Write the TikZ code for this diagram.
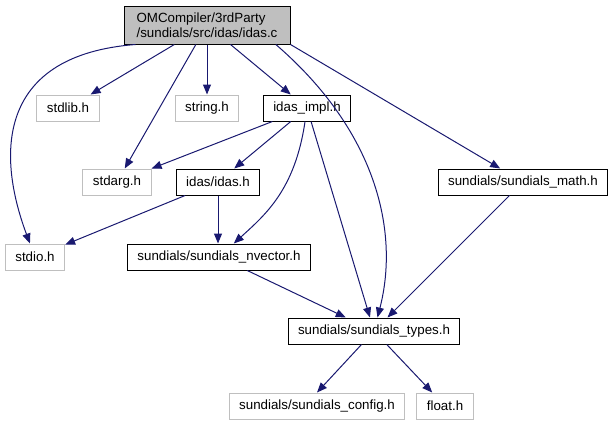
\documentclass[tikz,border=0pt]{standalone}
\usepackage{fontspec}
\setmainfont{Liberation Sans}
\usetikzlibrary{arrows.meta}
\definecolor{incblue}{RGB}{25,25,112}
\definecolor{incgray}{RGB}{191,191,191}

\begin{document}
\begin{tikzpicture}[x=0.75pt,y=-0.75pt,
    file/.style={draw=black,line width=0.75pt,inner xsep=7.5pt,inner ysep=2pt,minimum height=19.5pt,font=\fontsize{10}{11.5}\selectfont},
    sysfile/.style={file,draw=incgray},
    dep/.style={draw=incblue,line width=0.75pt,-{Triangle[length=7.5pt,width=6pt]}}]
    \useasboundingbox (0,0) rectangle (613,425);
    \node[file,fill=incgray,align=left,minimum width=124.5pt,minimum height=28.5pt] (idasc) at (207,25) {OMCompiler/3rdParty\\/sundials/src/idas/idas.c};
    \node[sysfile] (stdlib) at (68,108) {stdlib.h};
    \node[sysfile] (string) at (207,108) {string.h};
    \node[file] (impl) at (307,108) {idas\_impl.h};
    \node[sysfile] (stdarg) at (117,182) {stdarg.h};
    \node[file] (idash) at (218,182) {idas/idas.h};
    \node[file] (math) at (523,182) {sundials/sundials\_math.h};
    \node[sysfile] (stdio) at (35,257) {stdio.h};
    \node[file] (nvector) at (219,257) {sundials/sundials\_nvector.h};
    \node[file] (types) at (374,331) {sundials/sundials\_types.h};
    \node[sysfile] (config) at (317,406) {sundials/sundials\_config.h};
    \node[sysfile] (float) at (445,406) {float.h};

    % idas.c
    \draw[dep] ([xshift=9pt]idasc.south west) .. controls (0,55) and (-5,150) .. (stdio);
    \draw[dep] (idasc) -- (stdlib);
    \draw[dep] (idasc) -- (stdarg);
    \draw[dep] (idasc) -- (string);
    \draw[dep] (idasc) -- (impl);
    \draw[dep] ([xshift=-11pt]idasc.south east) .. controls (375,130) and (400,230) .. (types);
    \draw[dep] (idasc.south east) -- (math);
    % idas_impl.h
    \draw[dep] (impl) -- (stdarg);
    \draw[dep] (impl) -- (idash);
    \draw[dep] (impl) .. controls (295,190) and (265,215) .. (nvector);
    \draw[dep] (impl) -- (types);
    % the rest
    \draw[dep] (idash) -- (stdio);
    \draw[dep] (idash) -- (idash|-nvector.north);
    \draw[dep] (nvector) -- (types);
    \draw[dep] (math) -- (types);
    \draw[dep] (types) -- (config.north);
    \draw[dep] (types) -- (float);
  \end{tikzpicture}
\end{document}
